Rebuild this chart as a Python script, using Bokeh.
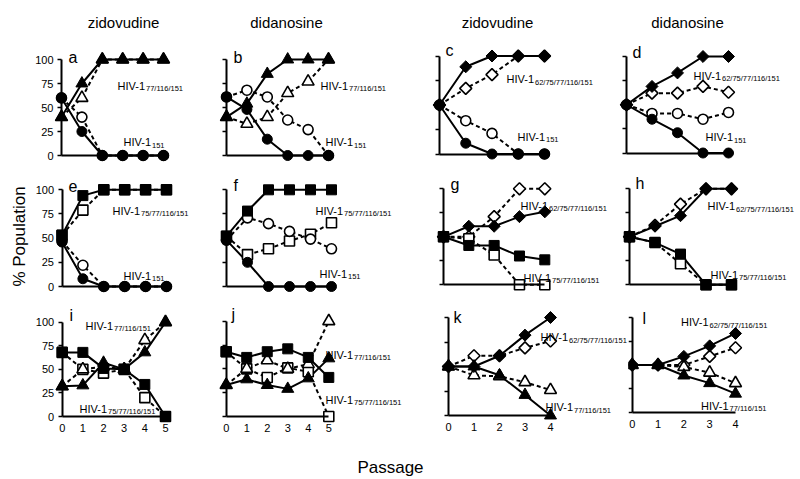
import numpy as np
from bokeh.plotting import figure
from bokeh.models import LinearAxis, FixedTicker, Range1d, Label
from bokeh.layouts import column, row
from bokeh.embed import file_html
from bokeh.resources import INLINE

# ---------------- data ----------------
passage5 = [0, 1, 2, 3, 4, 5]
passage4 = [0, 1, 2, 3, 4]
y_ticks = [0, 25, 50, 75, 100]
drug_titles = ["zidovudine", "didanosine", "zidovudine", "didanosine"]
panel_letters = ["a", "b", "c", "d", "e", "f", "g", "h", "i", "j", "k", "l"]

# a: zidovudine
a_filled_tri = [40, 75, 100, 100, 100, 100]
a_open_tri = [40, 60, 100, 100, 100, 100]
a_filled_circ = [60, 25, 0, 0, 0, 0]
a_open_circ = [60, 40, 0, 0, 0, 0]
# b: didanosine
b_filled_tri = [40, 54, 85, 100, 100, 100]
b_open_tri = [40, 33, 40, 65, 77, 100]
b_filled_circ = [61, 48, 17, 0, 0, 0]
b_open_circ = [61, 68, 61, 37, 27, 0]
# c
c_filled_dia = [50, 89, 100, 100, 100]
c_open_dia = [50, 67, 81, 100, 100]
c_open_circ = [50, 34, 21, 0, 0]
c_filled_circ = [50, 11, 0, 0, 0]
# d
d_filled_dia = [50, 69, 83, 100, 100]
d_open_dia = [50, 62, 62, 69, 63]
d_open_circ = [50, 41, 41, 35, 42]
d_filled_circ = [50, 35, 21, 0, 0]
# e
e_filled_sq = [53, 94, 100, 100, 100, 100]
e_open_sq = [53, 79, 100, 100, 100, 100]
e_open_circ = [47, 22, 0, 0, 0, 0]
e_filled_circ = [46, 8, 0, 0, 0, 0]
# f
f_filled_sq = [52, 78, 100, 100, 100, 100]
f_open_sq = [52, 33, 39, 47, 54, 66]
f_open_circ = [48, 71, 65, 57, 49, 39]
f_filled_circ = [48, 25, 0, 0, 0, 0]
# g
g_filled_dia = [50, 61, 61, 71, 76]
g_open_dia = [50, 50, 71, 100, 100]
g_filled_sq = [50, 41, 41, 30, 26]
g_open_sq = [50, 48, 31, 0, 0]
# h
h_filled_dia = [50, 61, 72, 100, 100]
h_open_dia = [50, 62, 84, 100, 100]
h_filled_sq = [50, 44, 32, 0, 0]
h_open_sq = [50, 44, 22, 0, 0]
# i
i_filled_sq = [68, 68, 51, 50, 34, 0]
i_open_sq = [68, 50, 46, 50, 20, 0]
i_filled_tri = [32, 33, 57, 50, 68, 100]
i_open_tri = [32, 50, 53, 50, 81, 100]
# j
j_filled_sq = [68, 62, 68, 71, 62, 41]
j_open_sq = [68, 50, 41, 51, 47, 0]
j_open_tri = [33, 50, 59, 50, 55, 100]
j_filled_tri = [33, 39, 33, 29, 40, 61]
# k
k_filled_dia = [50, 50, 61, 82, 100]
k_open_dia = [50, 61, 61, 69, 76]
k_open_tri = [50, 41, 40, 34, 26]
k_filled_tri = [50, 50, 41, 21, 0]
# l
l_filled_dia = [50, 50, 59, 70, 83]
l_open_dia = [50, 50, 50, 59, 68]
l_open_tri = [50, 50, 48, 42, 31]
l_filled_tri = [50, 50, 39, 31, 20]

# strain labels: (main, subscript)
S151 = ("HIV-1", "151")
S77 = ("HIV-1", "77/116/151")
S75 = ("HIV-1", "75/77/116/151")
S62 = ("HIV-1", "62/75/77/116/151")

# ---------------- layout / style ----------------
FONT = "Liberation Sans"

# series: (values, marker, filled, dashed)
panels = {
    "a": dict(x=passage5, series=[(a_open_tri, "triangle", False, True), (a_open_circ, "circle", False, True),
                                  (a_filled_tri, "triangle", True, False), (a_filled_circ, "circle", True, False)],
              labels=[(S77, 117, 85), (S151, 123, 141.5)]),
    "b": dict(x=passage5, series=[(b_open_tri, "triangle", False, True), (b_open_circ, "circle", False, True),
                                  (b_filled_tri, "triangle", True, False), (b_filled_circ, "circle", True, False)],
              labels=[(S77, 320, 85), (S151, 325, 141.5)]),
    "c": dict(x=passage4, series=[(c_open_dia, "diamond", False, True), (c_open_circ, "circle", False, True),
                                  (c_filled_dia, "diamond", True, False), (c_filled_circ, "circle", True, False)],
              labels=[(S62, 506, 78.5), (S151, 517, 136)]),
    "d": dict(x=passage4, series=[(d_open_dia, "diamond", False, True), (d_open_circ, "circle", False, True),
                                  (d_filled_dia, "diamond", True, False), (d_filled_circ, "circle", True, False)],
              labels=[(S62, 693, 75), (S151, 705, 136.5)]),
    "e": dict(x=passage5, series=[(e_open_sq, "square", False, True), (e_open_circ, "circle", False, True),
                                  (e_filled_sq, "square", True, False), (e_filled_circ, "circle", True, False)],
              labels=[(S75, 112, 210), (S151, 123, 275)]),
    "f": dict(x=passage5, series=[(f_open_sq, "square", False, True), (f_open_circ, "circle", False, True),
                                  (f_filled_sq, "square", True, False), (f_filled_circ, "circle", True, False)],
              labels=[(S75, 315, 210), (S151, 319, 273)]),
    "g": dict(x=passage4, series=[(g_open_dia, "diamond", False, True), (g_open_sq, "square", False, True),
                                  (g_filled_dia, "diamond", True, False), (g_filled_sq, "square", True, False)],
              labels=[(S62, 520, 205), (S75, 523, 277)]),
    "h": dict(x=passage4, series=[(h_open_dia, "diamond", False, True), (h_open_sq, "square", False, True),
                                  (h_filled_dia, "diamond", True, False), (h_filled_sq, "square", True, False)],
              labels=[(S62, 707, 205.5), (S75, 710, 274)]),
    "i": dict(x=passage5, series=[(i_open_sq, "square", False, True), (i_open_tri, "triangle", False, True),
                                  (i_filled_sq, "square", True, False), (i_filled_tri, "triangle", True, False)],
              labels=[(S77, 85, 325), (S75, 79, 408)]),
    "j": dict(x=passage5, series=[(j_open_sq, "square", False, True), (j_open_tri, "triangle", False, True),
                                  (j_filled_sq, "square", True, False), (j_filled_tri, "triangle", True, False)],
              labels=[(S77, 325, 354), (S75, 325, 399)]),
    "k": dict(x=passage4, series=[(k_open_dia, "diamond", False, True), (k_open_tri, "triangle", False, True),
                                  (k_filled_dia, "diamond", True, False), (k_filled_tri, "triangle", True, False)],
              labels=[(S62, 540, 336.5), (S77, 545, 406.5)]),
    "l": dict(x=passage4, series=[(l_open_dia, "diamond", False, True), (l_open_tri, "triangle", False, True),
                                  (l_filled_dia, "diamond", True, False), (l_filled_tri, "triangle", True, False)],
              labels=[(S62, 680.5, 321.5), (S77, 700.5, 405)]),
}

# page geometry (pixels): figure box, and where data x=0/x=max, y=0/y=100 fall
geom = {
    #     X0   X1   Y0   Y1   px0    pxm    py0    py100
    "a": (0, 190, 0, 168, 61, 163, 155, 59),
    "b": (190, 400, 0, 168, 226, 328, 155, 59),
    "c": (400, 612, 0, 168, 439, 544, 153.5, 55.5),
    "d": (612, 800, 0, 168, 626, 728, 152.5, 56),
    "e": (0, 198, 168, 297, 61.5, 166, 286, 189.3),
    "f": (198, 400, 168, 297, 226, 331, 286, 189.3),
    "g": (400, 617, 168, 297, 443, 544.3, 284.3, 188.3),
    "h": (617, 800, 168, 297, 629, 731, 284.3, 188.3),
    "i": (0, 196, 297, 442, 61.7, 165, 416, 321.7),
    "j": (196, 408, 297, 442, 225.7, 328.3, 416, 320.7),
    "k": (408, 628, 297, 442, 448, 550, 415, 317),
    "l": (628, 800, 297, 442, 631.7, 735, 412.3, 316.7),
}
letter_pos = {"a": (68, 57), "b": (233, 57), "c": (445, 50), "d": (632, 51.5),
              "e": (68, 185), "f": (233, 185), "g": (450, 184), "h": (635, 183),
              "i": (69, 315), "j": (231, 314), "k": (453, 317), "l": (642, 318)}
title_pos = {"a": (123, 22), "b": (286, 22), "c": (497, 22), "d": (687, 22)}

MARKER_SIZE = {"triangle": 12, "circle": 10, "square": 10, "diamond": 8.5}


def make_panel(key, col, row_idx):
    X0, X1, Y0, Y1, px0, pxm, py0, py100 = geom[key]
    spec = panels[key]
    xs = spec["x"]
    xmax = xs[-1]
    sx = (pxm - px0) / xmax
    sy = (py0 - py100) / 100.0
    p = figure(width=int(X1 - X0), height=int(Y1 - Y0),
               x_range=Range1d((X0 - px0) / sx, (X1 - px0) / sx),
               y_range=Range1d((py0 - Y1) / sy, (py0 - Y0) / sy),
               x_axis_type=None, y_axis_type=None, toolbar_location=None,
               output_backend="svg", min_border=0, title=None)
    p.outline_line_color = None
    p.background_fill_color = "white"
    p.border_fill_color = "white"

    def dx(px):
        return (px - px0) / sx

    def dy(py):
        return (py0 - py) / sy

    # axes
    yaxis = LinearAxis(fixed_location=0, bounds=(0, 100), ticker=FixedTicker(ticks=y_ticks))
    yaxis.axis_line_width = 2
    yaxis.axis_line_color = "black"
    yaxis.major_tick_out = 4
    yaxis.major_tick_in = 0
    yaxis.major_tick_line_width = 1.5
    yaxis.minor_tick_line_color = None
    yaxis.major_label_text_font = FONT
    yaxis.major_label_text_font_size = "11px"
    yaxis.major_label_text_color = "black"
    yaxis.major_label_standoff = 4
    if col != 0:
        yaxis.major_label_overrides = {t: "" for t in y_ticks}
    p.add_layout(yaxis, "left")

    xaxis = LinearAxis(fixed_location=0, bounds=(0, xmax), ticker=FixedTicker(ticks=xs))
    xaxis.axis_line_width = 2
    xaxis.axis_line_color = "black"
    xaxis.major_tick_out = 0
    xaxis.major_tick_in = 0
    xaxis.minor_tick_line_color = None
    xaxis.major_label_text_font = FONT
    xaxis.major_label_text_font_size = "11px"
    xaxis.major_label_text_color = "black"
    xaxis.major_label_standoff = 7
    if row_idx != 2:
        xaxis.major_label_overrides = {t: "" for t in xs}
    p.add_layout(xaxis, "below")

    # lines: dashed first, then solid
    for vals, mk, filled, dashed in spec["series"]:
        if dashed:
            p.line(xs, vals, line_color="black", line_width=2, line_dash="4 3")
    for vals, mk, filled, dashed in spec["series"]:
        if not dashed:
            p.line(xs, vals, line_color="black", line_width=2)
    # markers: open then filled
    for want_filled in (False, True):
        for vals, mk, filled, dashed in spec["series"]:
            if filled != want_filled:
                continue
            m = "square" if mk == "diamond" else mk
            ang = np.pi / 4 if mk == "diamond" else 0
            p.scatter(xs, vals, marker=m, angle=ang, size=MARKER_SIZE[mk],
                      fill_color="black" if filled else "white",
                      line_color="black", line_width=1 if filled else 1.6)

    # strain labels
    for (main, sub), lx, ly in spec["labels"]:
        p.add_layout(Label(x=dx(lx), y=dy(ly), text=main, text_font=FONT,
                           text_font_size="11px", text_color="black",
                           text_align="left", text_baseline="alphabetic"))
        p.add_layout(Label(x=dx(lx), y=dy(ly), x_offset=28.5, y_offset=-3, text=sub,
                           text_font=FONT, text_font_size="7.5px", text_color="black",
                           text_align="left", text_baseline="alphabetic"))
    # panel letter
    lx, ly = letter_pos[key]
    p.add_layout(Label(x=dx(lx), y=dy(ly), text=key, text_font=FONT, text_font_size="16px",
                       text_color="black", text_align="left", text_baseline="alphabetic"))
    # drug title
    if key in title_pos:
        tx, ty = title_pos[key]
        p.add_layout(Label(x=dx(tx), y=dy(ty), text=drug_titles["abcd".index(key)],
                           text_font=FONT, text_font_size="15px", text_color="black",
                           text_align="center", text_baseline="alphabetic"))
    # y-axis title
    if key == "e":
        p.add_layout(Label(x=dx(19), y=dy(236), text="% Population", angle=np.pi / 2,
                           text_font=FONT, text_font_size="17px", text_color="black",
                           text_align="center", text_baseline="alphabetic"))
    return p


rows = []
for r in range(3):
    figs = []
    for c in range(4):
        key = panel_letters[r * 4 + c]
        figs.append(make_panel(key, c, r))
    rows.append(row(*figs))

# bottom strip with the x-axis title
bottom = figure(width=800, height=36, x_range=Range1d(0, 800), y_range=Range1d(478, 442),
                x_axis_type=None, y_axis_type=None, toolbar_location=None,
                output_backend="svg", min_border=0, title=None)
bottom.outline_line_color = None
bottom.add_layout(Label(x=390, y=467, text="Passage", text_font=FONT, text_font_size="17px",
                        text_color="black", text_align="center", text_baseline="alphabetic"))

layout = column(*rows, bottom)
open("out.html", "w").write(file_html(layout, INLINE))
